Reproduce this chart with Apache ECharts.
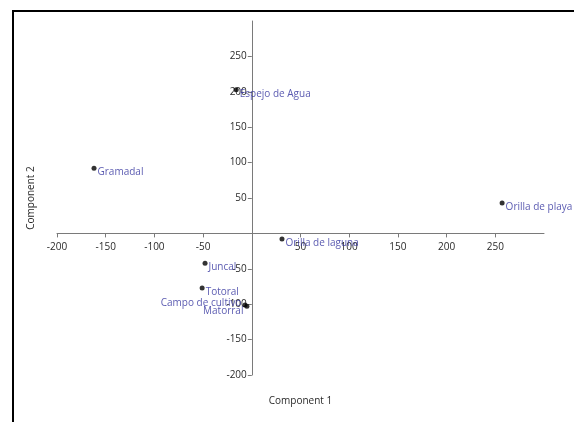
<!DOCTYPE html>
<html>
<head>
<meta charset="utf-8">
<script src="https://cdn.jsdelivr.net/npm/echarts@6/dist/echarts.min.js"></script>
<style>
html,body{margin:0;padding:0;background:#fff;}
#c{width:574px;height:422px;}
</style>
</head>
<body>
<div id="c"></div>
<script>
// Data
var sites = ['Espejo de Agua','Gramadal','Orilla de playa','Orilla de laguna','Juncal','Totoral','Campo de cultivo','Matorral'];
var component1 = [-16, -162, 257, 31, -48, -51, -7, -5];
var component2 = [203, 92, 43, -8, -42, -77, -101, -103];
var xTickValues = [-200,-150,-100,-50,50,100,150,200,250];
var yTickValues = [-200,-150,-100,-50,50,100,150,200,250];
var xAxisTitle = 'Component 1';
var yAxisTitle = 'Component 2';

var FONT = 'Open Sans';
var FS = 10;
var labelColor = '#2f2f9c';
// labels placed to the left for the overlapping pair
var leftLabels = { 'Campo de cultivo': [0, -2], 'Matorral': [0, 5] };

var data = sites.map(function (n, i) {
  var item = { name: n, value: [component1[i], component2[i]] };
  if (leftLabels[n]) {
    item.label = { position: 'left', distance: 1, offset: leftLabels[n] };
  }
  return item;
});

var X_MIN = -200, X_MAX = 300, Y_MIN = -200, Y_MAX = 300;
var G = { left: 57, right: 30, top: 21, bottom: 47 };
var W = 574, H = 422;
var plotW = W - G.left - G.right, plotH = H - G.top - G.bottom;
// move axes onto the zero lines (axes cross at the origin)
var xAxisOffset = -((0 - Y_MIN) / (Y_MAX - Y_MIN)) * plotH;
var yAxisOffset = -((0 - X_MIN) / (X_MAX - X_MIN)) * plotW;
var axisTitleY = 396, axisTitleX = 36;
var zeroY = G.top + plotH + xAxisOffset;
var zeroX = G.left - yAxisOffset;

var chart = echarts.init(document.getElementById('c'), null, { renderer: 'canvas' });
chart.setOption({
  animation: false,
  backgroundColor: '#fff',
  grid: { left: G.left, right: G.right, top: G.top, bottom: G.bottom, containLabel: false, outerBoundsMode: 'none' },
  graphic: [{
    type: 'rect', silent: true, z: 0,
    shape: { x: 13, y: 11, width: 700, height: 600 },
    style: { fill: 'none', stroke: '#000', lineWidth: 2 }
  }],
  xAxis: {
    type: 'value', min: X_MIN, max: X_MAX, interval: 50, position: 'bottom', offset: xAxisOffset,
    splitLine: { show: false },
    axisLine: { onZero: false, lineStyle: { color: '#7a7a7a', width: 1 } },
    axisTick: { show: true, length: 4, customValues: xTickValues, lineStyle: { color: '#7a7a7a' } },
    axisLabel: { customValues: xTickValues, margin: 9, color: '#2a2a2a', fontFamily: FONT, fontSize: FS },
    name: xAxisTitle, nameLocation: 'middle', nameGap: axisTitleY - zeroY,
    nameTextStyle: { color: '#2a2a2a', fontFamily: FONT, fontSize: FS }
  },
  yAxis: {
    type: 'value', min: Y_MIN, max: Y_MAX, interval: 50, position: 'left', offset: yAxisOffset,
    splitLine: { show: false },
    axisLine: { onZero: false, lineStyle: { color: '#7a7a7a', width: 1 } },
    axisTick: { show: true, length: 4, customValues: yTickValues, lineStyle: { color: '#7a7a7a' } },
    axisLabel: { customValues: yTickValues, margin: 5, color: '#2a2a2a', fontFamily: FONT, fontSize: FS },
    name: yAxisTitle, nameLocation: 'middle', nameGap: zeroX - axisTitleX, nameRotate: 90,
    nameTextStyle: { color: '#2a2a2a', fontFamily: FONT, fontSize: FS }
  },
  series: [{
    type: 'scatter',
    symbol: 'circle', symbolSize: 5,
    itemStyle: { color: '#000' },
    data: data,
    label: {
      show: true, position: 'right', distance: 1, offset: [0, 4],
      formatter: '{b}', color: labelColor, fontFamily: FONT, fontSize: FS
    },
    emphasis: { disabled: true }
  }]
});
</script>
</body>
</html>
